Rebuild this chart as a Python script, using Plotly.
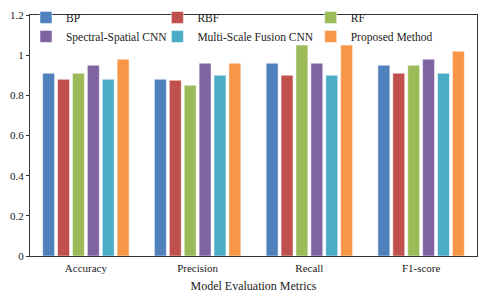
import plotly.graph_objects as go

categories = ["Accuracy", "Precision", "Recall", "F1-score"]
series_names = ["BP", "RBF", "RF", "Spectral-Spatial CNN", "Multi-Scale Fusion CNN", "Proposed Method"]
bp = [0.91, 0.88, 0.96, 0.95]
rbf = [0.88, 0.875, 0.90, 0.91]
rf = [0.91, 0.85, 1.05, 0.95]
spectral = [0.95, 0.96, 0.96, 0.98]
multiscale = [0.88, 0.90, 0.90, 0.91]
proposed = [0.98, 0.96, 1.05, 1.02]
colors = ["#4F81BD", "#C0504D", "#9BBB59", "#8064A2", "#4BACC6", "#F79646"]
legend_ids = ["legend", "legend2", "legend3", "legend", "legend2", "legend3"]

FAMILY = "Liberation Serif"
values = [bp, rbf, rf, spectral, multiscale, proposed]
fig = go.Figure()
for name, vals, col, lg in zip(series_names, values, colors, legend_ids):
    fig.add_trace(go.Bar(x=categories, y=vals, name=name, legend=lg,
                         marker=dict(color=col, line=dict(color="white", width=0.5))))

font = dict(family=FAMILY, size=11, color="#222")
leg_common = dict(orientation="v", bgcolor="rgba(0,0,0,0)", font=dict(family=FAMILY, size=11.5, color="#222"),
                  yanchor="top", y=1.05, xanchor="left", itemwidth=30, tracegroupgap=0,
                  traceorder="normal")
fig.update_layout(
    width=480, height=296,
    margin=dict(l=30, r=3, t=8, b=40),
    paper_bgcolor="white", plot_bgcolor="white",
    font=font,
    barmode="group", bargap=0.2, bargroupgap=0.2,
    legend=dict(**leg_common, x=-0.009),
    legend2=dict(**leg_common, x=0.285),
    legend3=dict(**leg_common, x=0.628),
    xaxis=dict(showline=True, linecolor="#333", linewidth=1, mirror=True, ticks="outside", ticklen=2,
               tickcolor="white",
               title=dict(text="Model Evaluation Metrics", font=dict(family=FAMILY, size=12), standoff=8)),
    yaxis=dict(range=[0, 1.2], dtick=0.2, showline=True, linecolor="#333", linewidth=1, mirror=True,
               ticks="outside", ticklen=3, tickcolor="#333", showgrid=False, zeroline=False,
               tickformat="~g"),
)
fig.write_html("out.html", config={"displayModeBar": False},
               post_script="document.body.style.margin='0';document.body.style.padding='0';")
